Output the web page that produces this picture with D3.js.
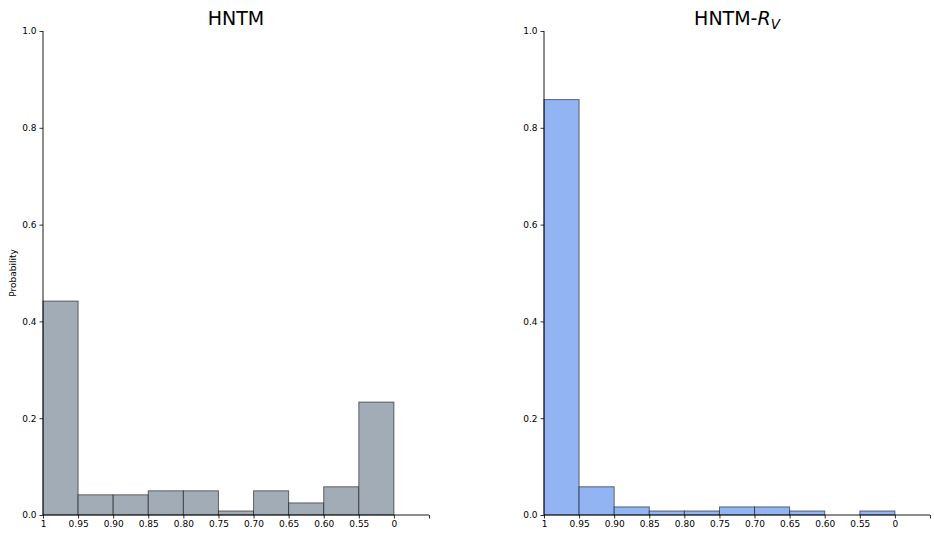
<!DOCTYPE html>
<html>
<head>
<meta charset="utf-8">
<script src="https://cdn.jsdelivr.net/npm/d3@7"></script>
<style>
  body { margin: 0; background: #fff; }
  svg { font-family: "DejaVu Sans", sans-serif; }
</style>
</head>
<body>
<svg id="chart" width="934" height="533"></svg>
<script>
// Similarity bins, from 1 down to 0
const binLabels = ["1", "0.95", "0.90", "0.85", "0.80", "0.75", "0.70", "0.65", "0.60", "0.55", "0"];
const yTicks = [0, 0.2, 0.4, 0.6, 0.8, 1.0];

// Probability per bin (10 bins)
const hntmValues = [0.442, 0.0417, 0.0417, 0.05, 0.05, 0.0083, 0.05, 0.025, 0.0583, 0.2333];
const hntmRvValues = [0.8583, 0.0583, 0.0167, 0.0083, 0.0083, 0.0167, 0.0167, 0.0083, 0, 0.0083];

const svg = d3.select("#chart");

const panels = [
  { title: "HNTM", values: hntmValues, left: 43, fill: "#a2acb7", ylabel: true, center: 236 },
  { title: "HNTM-", sub: "R", subV: "V", values: hntmRvValues, left: 544, fill: "#92b4f2", ylabel: false, center: 737 }
];

const plotTop = 31, plotBottom = 515, plotW = 386;

panels.forEach(p => {
  const g = svg.append("g");
  const x = d3.scaleLinear().domain([0, 11]).range([p.left, p.left + plotW]);
  const y = d3.scaleLinear().domain([0, 1]).range([plotBottom, plotTop]);

  g.selectAll("rect.bar")
    .data(p.values)
    .join("rect")
    .attr("class", "bar")
    .attr("x", (d, i) => x(i))
    .attr("width", (d, i) => x(i + 1) - x(i))
    .attr("y", d => y(d))
    .attr("height", d => y(0) - y(d))
    .attr("fill", p.fill)
    .attr("stroke", "rgba(0,0,0,0.55)")
    .attr("stroke-width", 1);

  const xAxis = d3.axisBottom(x)
    .tickValues(d3.range(0, 12))
    .tickFormat(i => i < binLabels.length ? binLabels[i] : "")
    .tickSize(3.5).tickPadding(2);
  const gx = g.append("g").attr("transform", `translate(0,${plotBottom})`).call(xAxis);
  gx.select(".domain").attr("d", `M${x(0)},0H${x(11)}`);

  const yAxis = d3.axisLeft(y).tickValues(yTicks).tickFormat(d3.format(".1f"))
    .tickSize(3.5).tickPadding(3);
  const gy = g.append("g").attr("transform", `translate(${p.left},0)`).call(yAxis);
  gy.select(".domain").attr("d", `M0,${plotBottom}V${plotTop}`);

  [gx, gy].forEach(a => {
    a.selectAll("text").attr("font-size", 9).attr("fill", "#000").attr("font-family", "DejaVu Sans, sans-serif");
    a.selectAll("line").attr("stroke", "#000").attr("stroke-width", 0.8);
    a.select(".domain").attr("stroke", "#000").attr("stroke-width", 0.9);
  });

  const t = g.append("text")
    .attr("x", p.center).attr("y", 25)
    .attr("text-anchor", "middle")
    .attr("font-size", 19)
    .attr("fill", "#000")
    .text(p.title);
  if (p.sub) {
    t.append("tspan").attr("font-style", "italic").text(p.sub);
    t.append("tspan").attr("font-style", "italic").attr("font-size", 13.5).attr("dy", 4).text(p.subV);
  }

  if (p.ylabel) {
    g.append("text")
      .attr("transform", `translate(16,${(plotTop + plotBottom) / 2}) rotate(-90)`)
      .attr("text-anchor", "middle")
      .attr("font-size", 9)
      .attr("fill", "#000")
      .text("Probability");
  }
});
</script>
</body>
</html>
